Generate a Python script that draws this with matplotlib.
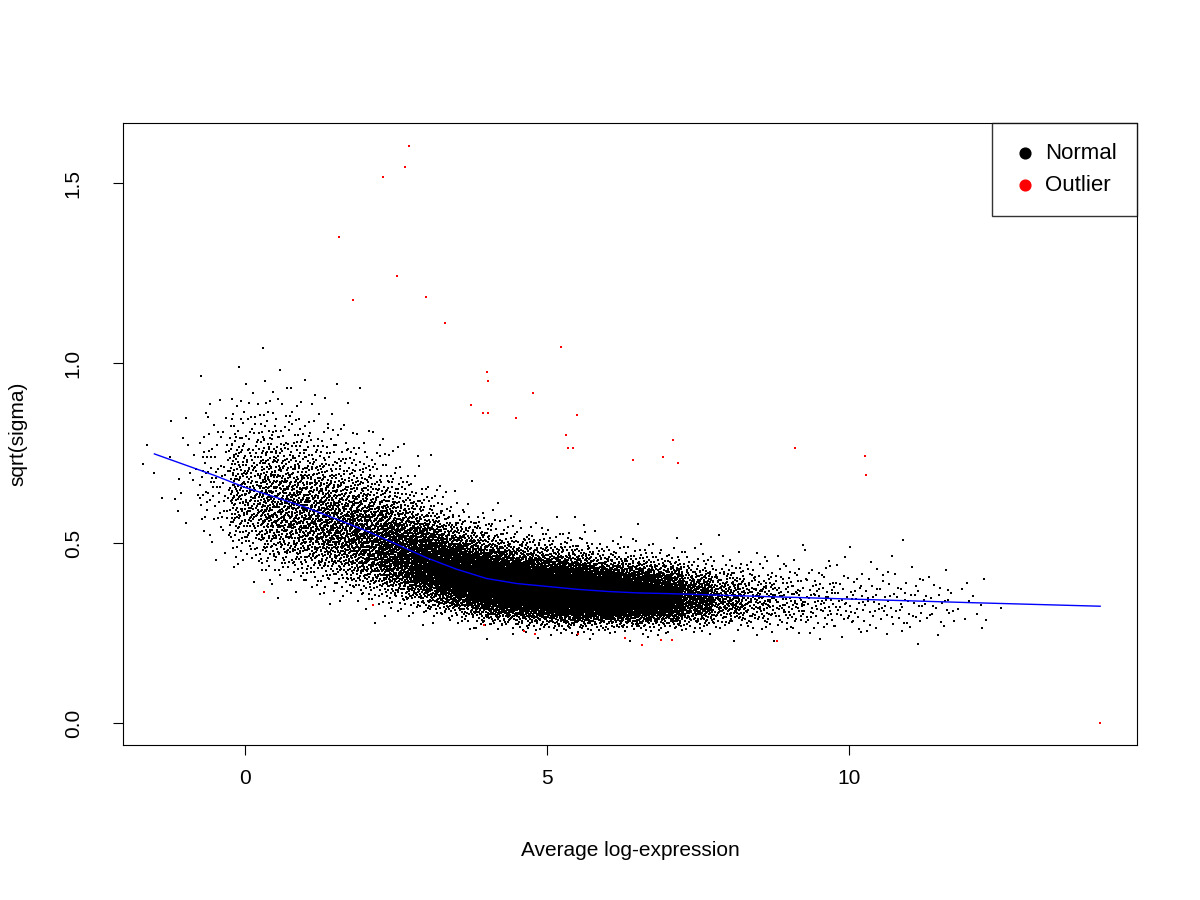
import numpy as np
import matplotlib
matplotlib.use("Agg")
import matplotlib.pyplot as plt
from statistics import NormalDist

plt.rcParams['font.family'] = ['Liberation Sans', 'DejaVu Sans']

# Red outliers
out_x = [2.72,2.28,2.65,1.56,1.79,2.52,3.0,3.31,5.23,4.0,4.02,3.74,3.94,4.02,4.49,4.77,5.5,5.31,5.43,5.35,
         7.09,6.92,7.17,6.42,9.11,10.26,10.28,0.31,2.12,3.96,4.62,4.8,5.51,6.29,6.57,6.89,7.07,8.81,14.16]
out_y = [1.603,1.517,1.544,1.35,1.175,1.242,1.183,1.111,1.044,0.975,0.95,0.883,0.861,0.861,0.847,0.917,0.856,0.8,0.764,0.764,
         0.786,0.739,0.722,0.731,0.764,0.742,0.689,0.364,0.328,0.272,0.256,0.247,0.247,0.236,0.217,0.231,0.231,0.228,0.0]

# Trend line
trend_x = [-1.5,-1,-0.5,0,0.5,1,1.5,2,2.5,3,3.5,4,4.5,5,5.5,6,6.5,7,8,9,10,12,14.16]
trend_y = [0.748,0.718,0.688,0.655,0.628,0.6,0.568,0.535,0.498,0.46,0.428,0.402,0.388,0.38,0.372,0.366,0.362,0.36,0.355,0.35,0.345,0.335,0.325]

# Density summary of normal genes per 0.5-wide bin
bin_x = [-1.5,-1,-0.5,0,0.5,1,1.5,2,2.5,3,3.5,4,4.5,5,5.5,6,6.5,7,7.5,8,8.5,9,9.5,10,10.5,11,11.5,12,12.5]
bin_n = [4,15,80,300,480,520,560,650,800,1000,1200,1400,1500,1500,1450,1300,1100,800,450,250,150,100,70,50,40,35,25,10,2]
bin_s = [0.12,0.13,0.15,0.16,0.17,0.17,0.17,0.17,0.16,0.15,0.14,0.14,0.13,0.13,0.13,0.12,0.12,0.12,0.12,0.12,0.13,0.14,0.15,0.15,0.15,0.15,0.14,0.13,0.1]

def halton(i, b):
    f, r = 1.0, 0.0
    while i > 0:
        f /= b; r += f * (i % b); i //= b
    return r

nd = NormalDist()
px, py = [], []
k = 1
for bx, n, s in zip(bin_x, bin_n, bin_s):
    for j in range(n):
        u = halton(k, 2); v = halton(k, 3); k += 1
        x = bx - 0.25 + 0.5 * u
        med = np.interp(x, trend_x, trend_y) * 0.98
        z = nd.inv_cdf(min(max(v, 1e-4), 1 - 1e-4))
        px.append(x); py.append(med * np.exp(s * z))

fig = plt.figure(figsize=(12, 9), dpi=100)
ax = fig.add_axes([0.1025, 0.172, 0.845, 0.6913])
ax.scatter(px, py, s=1.2, c='black', marker='s', linewidths=0)
ax.scatter(out_x, out_y, s=2.5, c='red', marker='s', linewidths=0)
ax.plot(trend_x, trend_y, color='blue', lw=1)
ax.set_xlim(-2.02, 14.77)
ax.set_ylim(-0.061, 1.667)
ax.set_xticks([0, 5, 10])
ax.set_yticks([0.0, 0.5, 1.0, 1.5])
ax.set_yticklabels(['0.0', '0.5', '1.0', '1.5'], rotation=90, va='center')
ax.tick_params(axis='x', direction='out', length=7, labelsize=15, pad=10)
ax.tick_params(axis='y', direction='out', length=7, labelsize=15, pad=22)
ax.set_xlabel('Average log-expression', fontsize=15, labelpad=38)
ax.set_ylabel('sqrt(sigma)', fontsize=15, labelpad=26)
h1 = ax.scatter([], [], s=60, c='black')
h2 = ax.scatter([], [], s=60, c='red')
leg = ax.legend([h1, h2], ['Normal', 'Outlier'], loc='upper right', fontsize=16,
                frameon=True, fancybox=False, borderaxespad=0, handletextpad=0.3,
                borderpad=0.9, handlelength=1.2, labelspacing=0.5)
leg.get_frame().set_edgecolor('black'); leg.get_frame().set_linewidth(1)
fig.savefig('out.png')
